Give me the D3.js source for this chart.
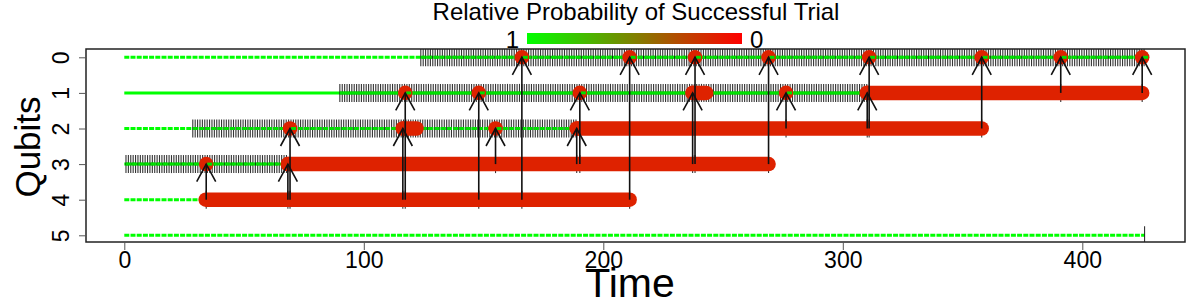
<!DOCTYPE html>
<html>
<head>
<meta charset="utf-8">
<script src="https://cdnjs.cloudflare.com/ajax/libs/d3/7.8.5/d3.min.js"></script>
<style>
  body { margin: 0; background: #fff; }
  text { font-family: "Liberation Sans", Arial, sans-serif; fill: #000; }
</style>
</head>
<body>
<div class="chart"></div>
<script>
// data

var qubits = [0, 1, 2, 3, 4, 5];
var timeTicks = [0, 100, 200, 300, 400];
// where each qubit's wire stops
var wireEnd = [426, 425, 358, 269, 211, 426];

// [qubit, from, to] : hatched (waiting) stretches
var hatchSpans = [[0, 123.8, 426], [1, 90, 310], [2, 28.6, 189], [3, 0.7, 68], [5, 426, 426]];

// [qubit, from, to] : red (probability ~0) stretches
var redBars = [[4, 34, 211], [3, 68.3, 269], [2, 116.5, 122], [2, 189, 358], [1, 237.3, 243], [1, 310, 425]];

// gates: source qubit, target qubit, time
var gateSrc = [4, 4, 4, 4, 4, 4, 3, 4, 3, 3, 4, 3, 3, 3, 2, 2, 2, 2, 1, 1];
var gateTgt = [3, 3, 2, 2, 1, 1, 2, 0, 2, 1, 0, 1, 0, 0, 1, 1, 0, 0, 0, 0];
var gateTime = [34.2, 68.3, 69.2, 116.3, 117.3, 148, 155, 166, 188.9, 190.2, 211, 237.3, 238.3, 269, 276.3, 310.2, 311, 358, 391, 425];

var width = 1200, height = 300;
var box = {left: 86, right: 1185, top: 49, bottom: 242};
var red = "#de2200";

var svg = d3.select(".chart").append("svg").attr("width", width).attr("height", height);

var x = d3.scaleLinear().domain([0, 400]).range([124.3, 1082.3]);
var y = d3.scaleLinear().domain([0, 5]).range([57.3, 235.3]);
var probColor = d3.scaleLinear().domain([1, 0]).range(["#00ff00", "#ff0000"]);

var gates = gateTime.map(function(t, i) { return {t: t, src: gateSrc[i], tgt: gateTgt[i]}; });

// title + colour key
svg.append("text").attr("x", 636).attr("y", 20).attr("text-anchor", "middle")
  .style("font-size", "24px").text("Relative Probability of Successful Trial");

var grad = svg.append("defs").append("linearGradient").attr("id", "probGrad");
d3.range(0, 1.01, 0.1).forEach(function(p) {
  grad.append("stop").attr("offset", p).attr("stop-color", probColor(1 - p));
});
svg.append("rect").attr("x", 527).attr("y", 33).attr("width", 215).attr("height", 11).attr("fill", "url(#probGrad)");
svg.append("text").attr("x", 519).attr("y", 48).attr("text-anchor", "end").style("font-size", "24px").text("1");
svg.append("text").attr("x", 750).attr("y", 48).style("font-size", "24px").text("0");

var plot = svg.append("g");

// green qubit lines
plot.selectAll(".wire").data(qubits).enter().append("line")
  .attr("class", "wire")
  .attr("x1", x(0)).attr("x2", function(d) { return x(wireEnd[d]); })
  .attr("y1", function(d) { return y(d); }).attr("y2", function(d) { return y(d); })
  .attr("stroke", "#00ff00").attr("stroke-width", 3)
  .attr("stroke-dasharray", function(d) { return d == 1 ? null : "5,1.2"; });

// hatch marks, one per time step
var hatch = [];
hatchSpans.forEach(function(s) {
  for (var t = s[1]; t <= s[2] + 0.01; t += 1) hatch.push({q: s[0], t: t});
});
gates.forEach(function(g) { hatch.push({q: g.src, t: g.t}); });

plot.selectAll(".hatch").data(hatch).enter().append("line")
  .attr("class", "hatch")
  .attr("x1", function(d) { return x(d.t); }).attr("x2", function(d) { return x(d.t); })
  .attr("y1", function(d) { return Math.max(y(d.q) - 9, box.top); })
  .attr("y2", function(d) { return Math.min(y(d.q) + 9, box.bottom); })
  .attr("stroke", "#111").attr("stroke-width", 1.1).attr("opacity", 0.85);

// dashed green over the hatch again so it stays visible
plot.selectAll(".wire2").data(hatchSpans.filter(function(s) { return s[2] > s[1]; })).enter().append("line")
  .attr("x1", function(d) { return x(d[1]); }).attr("x2", function(d) { return x(d[2]); })
  .attr("y1", function(d) { return y(d[0]); }).attr("y2", function(d) { return y(d[0]); })
  .attr("stroke", "#00e000").attr("stroke-width", 3)
  .attr("stroke-dasharray", function(d) { return d[0] == 1 ? null : "5,1.2"; });

// red stretches
plot.selectAll(".bar").data(redBars).enter().append("line")
  .attr("x1", function(d) { return x(d[1]); }).attr("x2", function(d) { return x(d[2]); })
  .attr("y1", function(d) { return y(d[0]); }).attr("y2", function(d) { return y(d[0]); })
  .attr("stroke", red).attr("stroke-width", 14.5).attr("stroke-linecap", "round");

// red dots at gate targets
plot.selectAll(".dot").data(gates).enter().append("circle")
  .attr("cx", function(d) { return x(d.t); }).attr("cy", function(d) { return y(d.tgt); })
  .attr("r", 7.3).attr("fill", red);

// wire resumes over the right half of a dot
plot.selectAll(".tail").data(gates.filter(function(g) {
    return !redBars.some(function(b) { return b[0] == g.tgt && g.t >= b[1] - 1 && g.t < b[2]; });
  })).enter().append("line")
  .attr("x1", function(d) { return x(d.t) + 1; }).attr("x2", function(d) { return x(d.t) + 7; })
  .attr("y1", function(d) { return y(d.tgt); }).attr("y2", function(d) { return y(d.tgt); })
  .attr("stroke", "#00dd00").attr("stroke-width", 3).attr("stroke-dasharray", "5,1.2");

// gate arrows
plot.selectAll(".stem").data(gates).enter().append("line")
  .attr("x1", function(d) { return x(d.t); }).attr("x2", function(d) { return x(d.t); })
  .attr("y1", function(d) { return y(d.src); }).attr("y2", function(d) { return y(d.tgt); })
  .attr("stroke", "#111").attr("stroke-width", 1.6);

plot.selectAll(".head").data(gates).enter().append("path")
  .attr("d", function(d) {
    var px = x(d.t), py = y(d.tgt);
    return "M" + (px - 9.5) + "," + (py + 17.5) + "L" + px + "," + py + "L" + (px + 9.5) + "," + (py + 17.5);
  })
  .attr("fill", "none").attr("stroke", "#111").attr("stroke-width", 1.6);

// frame
svg.append("rect").attr("x", box.left).attr("y", box.top)
  .attr("width", box.right - box.left).attr("height", box.bottom - box.top)
  .attr("fill", "none").attr("stroke", "#222").attr("stroke-width", 1.5);

// axes
var xAxis = svg.append("g").attr("transform", "translate(0," + box.bottom + ")")
  .call(d3.axisBottom(x).tickValues(timeTicks).tickSize(8));
xAxis.select(".domain").remove();
xAxis.selectAll("line").attr("stroke", "#555");
xAxis.selectAll("text").style("font-size", "23px").attr("y", 26).attr("dy", 0);

var yAxis = svg.append("g").attr("transform", "translate(" + box.left + ",0)")
  .call(d3.axisLeft(y).tickValues(qubits).tickFormat(d3.format("d")).tickSize(7));
yAxis.select(".domain").remove();
yAxis.selectAll("line").attr("stroke", "#555");
yAxis.selectAll("text")
  .style("font-size", "23px")
  .attr("text-anchor", "middle")
  .attr("x", 0).attr("y", 0).attr("dy", 0)
  .attr("transform", "translate(-17,0) rotate(-90)");

svg.append("text").attr("x", 630).attr("y", 297).attr("text-anchor", "middle")
  .style("font-size", "41px").text("Time");
svg.append("text").attr("transform", "translate(40,147) rotate(-90)").attr("text-anchor", "middle")
  .style("font-size", "35px").text("Qubits");
</script>
</body>
</html>
